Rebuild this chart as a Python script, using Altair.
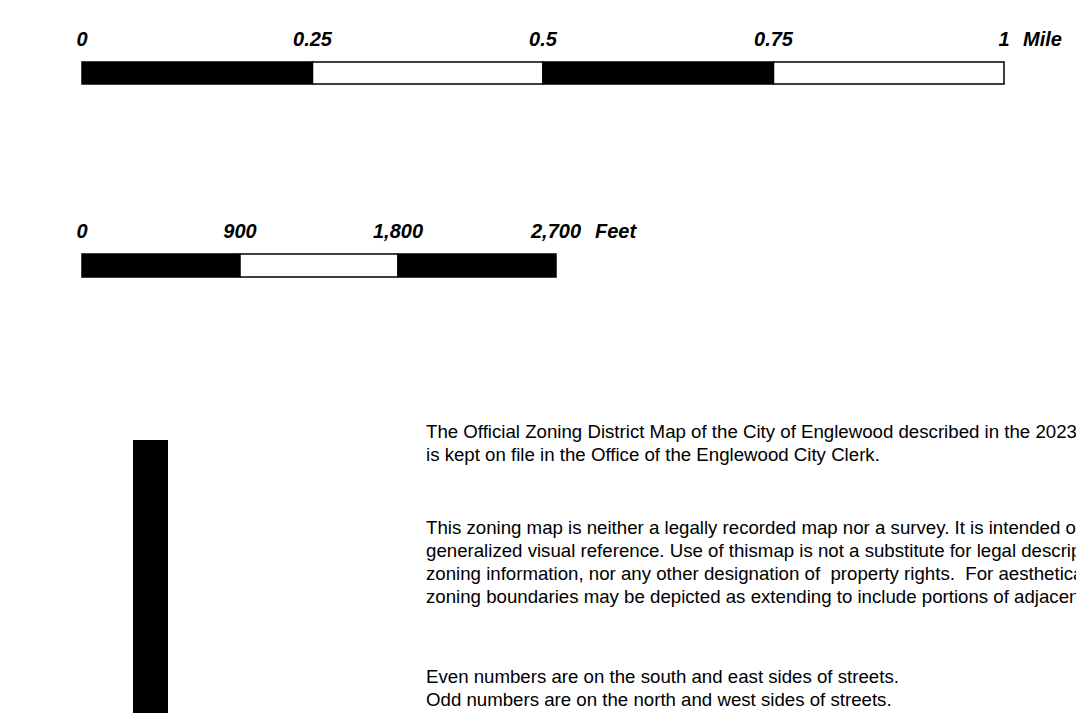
import altair as alt
import pandas as pd

# ---- data ----
mile_starts = [0, 0.25, 0.5, 0.75]
mile_ends = [0.25, 0.5, 0.75, 1.0]
mile_fill = ["black", "white", "black", "white"]
mile_ticks = [0, 0.25, 0.5, 0.75, 1]
mile_labels = ["0", "0.25", "0.5", "0.75", "1"]
mile_unit = ["Mile"]

feet_starts = [0, 900, 1800]
feet_ends = [900, 1800, 2700]
feet_fill = ["black", "white", "black"]
feet_ticks = [0, 900, 1800, 2700]
feet_labels = ["0", "900", "1,800", "2,700"]
feet_unit = ["Feet"]

NB = "\u00a0"
para1 = [
    "The Official Zoning District Map of the City of Englewood described in the 2023",
    "is kept on file in the Office of the Englewood City Clerk.",
]
para2 = [
    "This zoning map is neither a legally recorded map nor a survey. It is intended only",
    "generalized visual reference. Use of thismap is not a substitute for legal descriptions,",
    "zoning information, nor any other designation of" + NB + " property rights." + NB + " For aesthetical clarity,",
    "zoning boundaries may be depicted as extending to include portions of adjacent",
]
para3 = [
    "Even numbers are on the south and east sides of streets.",
    "Odd numbers are on the north and west sides of streets.",
]

W, H = 1068, 710
FONT = "Liberation Sans"

mile_scale = alt.Scale(domain=[0, 1], range=[74, 996])
feet_scale = alt.Scale(domain=[0, 2700], range=[74, 548])

mile_bar_df = pd.DataFrame({"s": mile_starts, "e": mile_ends, "f": mile_fill})
feet_bar_df = pd.DataFrame({"s": feet_starts, "e": feet_ends, "f": feet_fill})
mile_lab_df = pd.DataFrame({"v": mile_ticks, "t": mile_labels})
feet_lab_df = pd.DataFrame({"v": feet_ticks, "t": feet_labels})
mile_unit_df = pd.DataFrame({"v": [mile_ticks[-1]], "t": mile_unit})
feet_unit_df = pd.DataFrame({"v": [feet_ticks[-1]], "t": feet_unit})

label_style = dict(font=FONT, fontSize=20, fontStyle="italic", fontWeight="bold",
                   color="black", baseline="alphabetic")


def bar(df, scale, y0, y1):
    return alt.Chart(df).mark_rect(stroke="black", strokeWidth=1.5).encode(
        x=alt.X("s:Q", scale=scale, axis=None),
        x2="e:Q",
        y=alt.value(y0),
        y2=alt.value(y1),
        fill=alt.Fill("f:N", scale=None),
    )


def labels(df, scale, y, align="center", dx=0):
    return alt.Chart(df).mark_text(align=align, dx=dx, **label_style).encode(
        x=alt.X("v:Q", scale=scale, axis=None),
        y=alt.value(y),
        text="t:N",
    )


def para(lines, y):
    df = pd.DataFrame({"t": ["\n".join(lines)]})
    return alt.Chart(df).mark_text(
        align="left", baseline="alphabetic", lineBreak="\n", lineHeight=23,
        font=FONT, fontSize=18.67, color="black",
    ).encode(x=alt.value(418), y=alt.value(y), text="t:N")


side_bar = alt.Chart(pd.DataFrame({"k": [0]})).mark_rect(color="black").encode(
    x=alt.value(125), x2=alt.value(160), y=alt.value(432), y2=alt.value(705)
)

chart = alt.layer(
    bar(mile_bar_df, mile_scale, 54, 76),
    labels(mile_lab_df, mile_scale, 38),
    labels(mile_unit_df, mile_scale, 38, align="left", dx=19),
    bar(feet_bar_df, feet_scale, 246, 269),
    labels(feet_lab_df, feet_scale, 230),
    labels(feet_unit_df, feet_scale, 230, align="left", dx=39),
    side_bar,
    para(para1, 430),
    para(para2, 526),
    para(para3, 675),
).resolve_scale(x="independent").properties(
    width=W, height=H, padding=0, autosize="none", background="white"
).configure_view(stroke=None)

chart.save("out.html", embed_options={"renderer": "svg", "actions": False})
